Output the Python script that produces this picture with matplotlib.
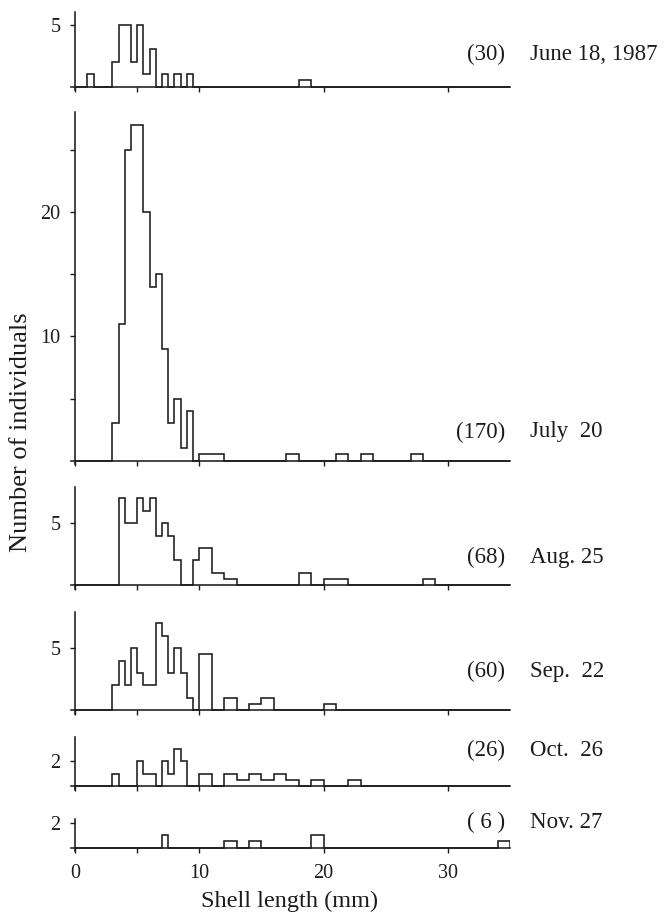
import numpy as np
import matplotlib
matplotlib.use("Agg")
import matplotlib.pyplot as plt

plt.rcParams['font.family'] = ['Liberation Serif', 'DejaVu Serif']

# size classes: 0.5 mm below 10 mm, 1 mm from 10 to 35 mm
fine_edges = np.arange(0, 10.5, 0.5)
coarse_edges = np.arange(10, 36, 1)

dates = ["June 18, 1987", "July  20", "Aug. 25", "Sep.  22", "Oct.  26", "Nov. 27"]
totals = ["(30)", "(170)", "(68)", "(60)", "(26)", "( 6 )"]

# counts per 0.5 mm class, 0-10 mm
june_fine = [0, 0, 1, 0, 0, 0, 2, 5, 5, 2, 5, 1, 3, 0, 1, 0, 1, 0, 1, 0]
july_fine = [0, 0, 0, 0, 0, 0, 3, 11, 25, 27, 27, 20, 14, 15, 9, 3, 5, 1, 4, 0]
aug_fine = [0, 0, 0, 0, 0, 0, 0, 7, 5, 5, 7, 6, 7, 4, 5, 4, 2, 0, 0, 2]
sep_fine = [0, 0, 0, 0, 0, 0, 2, 4, 2, 5, 3, 2, 2, 7, 6, 3, 5, 3, 1, 0]
oct_fine = [0, 0, 0, 0, 0, 0, 1, 0, 0, 0, 2, 1, 1, 0, 2, 1, 3, 2, 0, 0]
nov_fine = [0, 0, 0, 0, 0, 0, 0, 0, 0, 0, 0, 0, 0, 0, 1, 0, 0, 0, 0, 0]

# counts per 1 mm class, 10-35 mm
june_coarse = [0, 0, 0, 0, 0, 0, 0, 0, 1, 0, 0, 0, 0, 0, 0, 0, 0, 0, 0, 0, 0, 0, 0, 0, 0]
july_coarse = [1, 1, 0, 0, 0, 0, 0, 1, 0, 0, 0, 1, 0, 1, 0, 0, 0, 1, 0, 0, 0, 0, 0, 0, 0]
aug_coarse = [6, 2, 1, 0, 0, 0, 0, 0, 2, 0, 1, 1, 0, 0, 0, 0, 0, 0, 1, 0, 0, 0, 0, 0, 0]
sep_coarse = [9, 0, 2, 0, 1, 2, 0, 0, 0, 0, 1, 0, 0, 0, 0, 0, 0, 0, 0, 0, 0, 0, 0, 0, 0]
oct_coarse = [2, 0, 2, 1, 2, 1, 2, 1, 0, 1, 0, 0, 1, 0, 0, 0, 0, 0, 0, 0, 0, 0, 0, 0, 0]
nov_coarse = [0, 0, 1, 0, 1, 0, 0, 0, 0, 2, 0, 0, 0, 0, 0, 0, 0, 0, 0, 0, 0, 0, 0, 0, 1]

fine = [june_fine, july_fine, aug_fine, sep_fine, oct_fine, nov_fine]
coarse = [june_coarse, july_coarse, aug_coarse, sep_coarse, oct_coarse, nov_coarse]

yticks = [[5], [5, 10, 15, 20, 25], [5], [5], [2], [2]]
ylabels = [["5"], ["", "10", "", "20", ""], ["5"], ["5"], ["2"], ["2"]]
xticks = [0, 5, 10, 20, 30]
xlabels = ["0", "", "10", "20", "30"]

# panel placement in pixels: baseline y, top of y axis
W, H = 667, 914
px = 12.43          # pixels per mm and per individual
x0 = 75.0
panels = [(86.7, 11.7), (460.7, 111.7), (585.3, 487.3),
          (710.3, 611.7), (786.0, 736.7), (847.7, 819.3)]
label_y = [54, 432, 557, 671, 750, 822]

ink = '#1c1c1c'
fig = plt.figure(figsize=(W / 100, H / 100), dpi=100)

edges = np.concatenate([fine_edges, coarse_edges[1:]])
for i, (base, top) in enumerate(panels):
    pad = 0.3
    left = x0 - pad * px
    right = x0 + 35 * px
    bottom = base + pad * px
    ax = fig.add_axes([left / W, 1 - bottom / H, (right - left) / W, (bottom - top) / H])
    # heights per 0.5 mm of shell length
    heights = np.concatenate([np.array(fine[i], float), np.array(coarse[i], float) / 2])
    ax.stairs(heights, edges, baseline=0, color=ink, lw=1.15)
    ax.set_xlim(-pad, 35)
    ax.set_ylim(-pad, (base - top) / px)
    for s in ['top', 'right']:
        ax.spines[s].set_visible(False)
    for s in ['left', 'bottom']:
        ax.spines[s].set_position(('data', 0))
        ax.spines[s].set_color(ink)
        ax.spines[s].set_linewidth(1.15)
    ax.set_yticks(yticks[i], ylabels[i])
    if i == len(panels) - 1:
        ax.set_xticks(xticks, xlabels)
    else:
        ax.set_xticks(xticks, [""] * len(xticks))
    ax.tick_params(axis='both', direction='out', length=3.5, width=1.0, color=ink,
                   labelsize=14.5, labelcolor=ink)
    ax.tick_params(axis='y', pad=7)
    ax.tick_params(axis='x', pad=8)
    ax.patch.set_visible(False)

    fig.text(505 / W, 1 - label_y[i] / H, totals[i], ha='right', va='center',
             fontsize=16.5, color=ink)
    fig.text(530 / W, 1 - label_y[i] / H, dates[i], ha='left', va='center',
             fontsize=16.5, color=ink)

fig.text(21 / W, 1 - 432 / H, "Number of individuals", rotation=90,
         ha='center', va='center', fontsize=19, color=ink)
fig.text(290 / W, 1 - 907 / H, "Shell length (mm)", ha='center', va='baseline',
         fontsize=17.5, color=ink)

fig.savefig("out.png", dpi=100)
